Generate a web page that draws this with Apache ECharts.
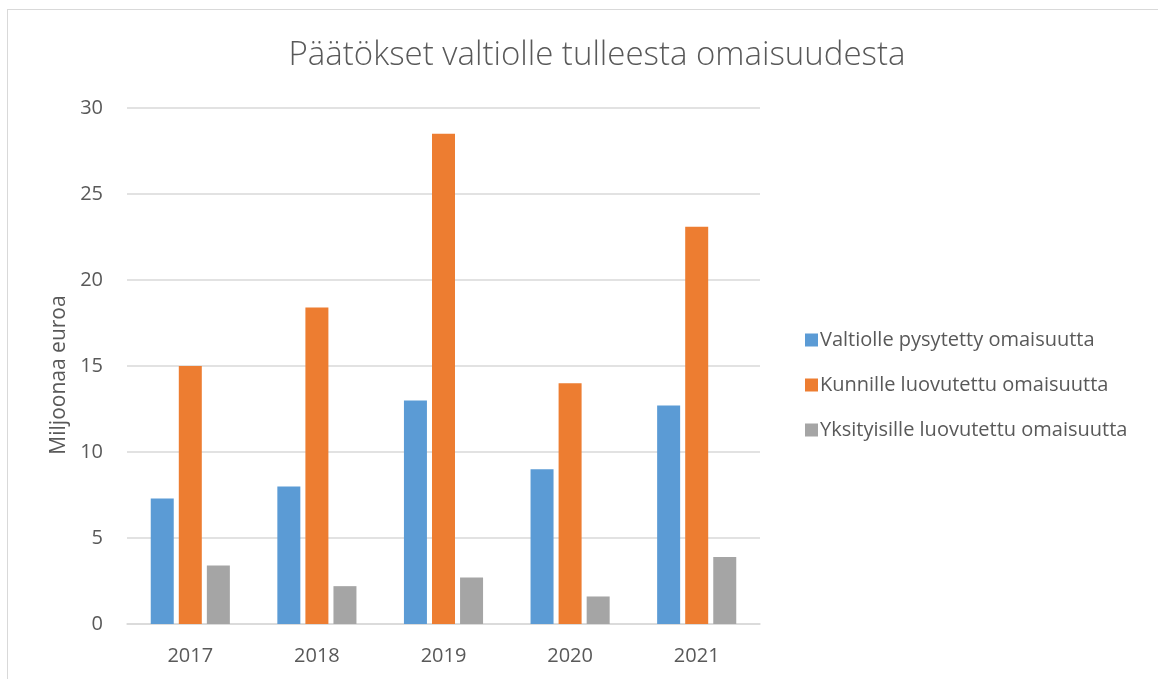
<!DOCTYPE html>
<html>
<head>
<meta charset="utf-8">
<script src="https://cdn.jsdelivr.net/npm/echarts@6/dist/echarts.min.js"></script>
<style>
  html, body { margin: 0; padding: 0; background: #fff; }
  .frame {
    position: absolute; left: 7px; top: 9px; width: 1160px; height: 680px;
    border: 1px solid #d9d9d9;
  }
  #chart { position: absolute; left: 0; top: 0; width: 1158px; height: 679px; }
</style>
</head>
<body>
<div class="frame"></div>
<div id="chart"></div>
<script>
const years = ["2017", "2018", "2019", "2020", "2021"];
const valtiolle = [7.3, 8.0, 13.0, 9.0, 12.7];
const kunnille = [15.0, 18.4, 28.5, 14.0, 23.1];
const yksityisille = [3.4, 2.2, 2.7, 1.6, 3.9];
const seriesNames = [
  "Valtiolle pysytetty omaisuutta",
  "Kunnille luovutettu omaisuutta",
  "Yksityisille luovutettu omaisuutta"
];
const colors = ["#5b9bd5", "#ed7d31", "#a5a5a5"];

const font = "'Open Sans', 'Noto Sans', sans-serif";
const textColor = "#595959";

let chart = echarts.init(document.getElementById("chart"), null, { renderer: "canvas" });
chart.setOption({
  animation: false,
  color: colors,
  title: {
    text: "Päätökset valtiolle tulleesta omaisuudesta",
    left: 592,
    textAlign: "center",
    top: 34,
    textStyle: { fontFamily: font, fontSize: 33, fontWeight: 300, color: textColor }
  },
  legend: {
    orient: "vertical",
    left: 800,
    top: 325,
    itemWidth: 13,
    itemHeight: 13,
    itemGap: 25,
    icon: "rect",
    textStyle: { fontFamily: font, fontSize: 20, color: textColor, padding: [0, 0, 0, -3] },
    data: seriesNames
  },
  grid: { left: 127, right: 398, top: 108, bottom: 55 },
  xAxis: {
    type: "category",
    data: years,
    axisTick: { show: false },
    axisLine: { lineStyle: { color: "#d9d9d9", width: 1.5 } },
    axisLabel: { fontFamily: font, fontSize: 20, color: textColor, margin: 22 }
  },
  yAxis: {
    type: "value",
    min: 0,
    max: 30,
    interval: 5,
    name: "Miljoonaa euroa",
    nameLocation: "middle",
    nameGap: 55,
    nameTextStyle: { fontFamily: font, fontSize: 21, color: textColor, padding: [0, 18, 0, 0] },
    axisLabel: { fontFamily: font, fontSize: 20, color: textColor, margin: 24 },
    splitLine: { lineStyle: { color: "#d9d9d9", width: 1.5 } }
  },
  series: [
    { name: seriesNames[0], type: "bar", data: valtiolle, barWidth: 23, barGap: "22%" },
    { name: seriesNames[1], type: "bar", data: kunnille, barWidth: 23, barGap: "22%" },
    { name: seriesNames[2], type: "bar", data: yksityisille, barWidth: 23, barGap: "22%" }
  ]
});
</script>
</body>
</html>
